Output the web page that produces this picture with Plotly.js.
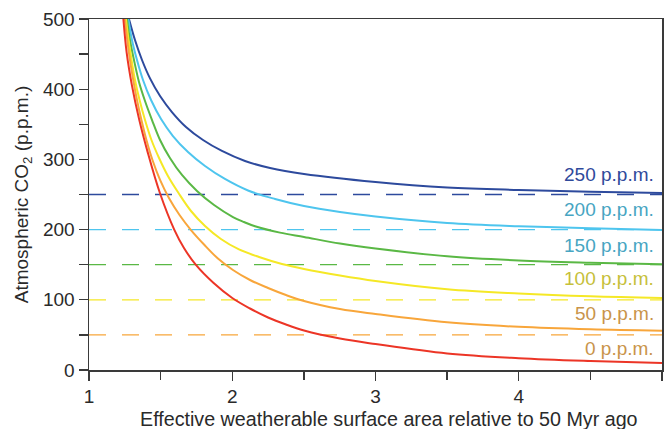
<!DOCTYPE html>
<html>
<head>
<meta charset="utf-8">
<script src="https://cdn.plot.ly/plotly-3.0.1.min.js"></script>
<style>
  html, body { margin: 0; padding: 0; background: #ffffff; }
  #chart { width: 666px; height: 429px; }
</style>
</head>
<body>
<div id="chart"></div>
<script>
// Curve data (x: effective weatherable surface area, y: CO2 p.p.m.)
const blueX   = [1.279, 1.321, 1.370, 1.426, 1.496, 1.579, 1.677, 1.796, 1.928, 2.089, 2.264, 2.501, 3.0, 3.5, 4.0, 4.5, 5.0];
const blueY   = [500, 470, 441.6, 415.4, 390.3, 367.5, 346.2, 327.6, 312, 297.7, 287.7, 279.2, 267.8, 260, 256.4, 254, 252];

const cyanX   = [1.275, 1.300, 1.335, 1.377, 1.433, 1.503, 1.586, 1.691, 1.810, 1.949, 2.110, 2.299, 2.501, 2.752, 3.0, 3.5, 4.0, 4.5, 5.0];
const cyanY   = [500, 470.1, 441.6, 413.1, 384.6, 357.5, 333.3, 310.5, 290.6, 272.1, 255.7, 243.6, 233.6, 225.1, 218.7, 209.4, 204.8, 202, 199.4];

const greenX  = [1.265, 1.286, 1.314, 1.349, 1.391, 1.440, 1.496, 1.565, 1.649, 1.754, 1.873, 2.005, 2.082, 2.159, 2.333, 2.501, 2.752, 3.0, 3.5, 4.0, 4.5, 5.0];
const greenY  = [500, 470.1, 441.6, 410.3, 383.2, 356.1, 327.6, 302, 277.8, 255, 235, 217.9, 210.8, 204.8, 195.7, 189.5, 180.2, 173.1, 162, 156, 152.8, 150.6];

const yellowX = [1.258, 1.276, 1.297, 1.321, 1.353, 1.391, 1.436, 1.489, 1.551, 1.625, 1.712, 1.810, 1.921, 2.047, 2.187, 2.347, 2.501, 2.752, 3.0, 3.5, 4.0, 4.5, 5.0];
const yellowY = [500, 470.1, 441.6, 413.1, 384.6, 356.1, 327.6, 302, 276.4, 252.1, 226.5, 205.1, 186.6, 171.7, 161, 151, 143.9, 134.6, 126.8, 115, 109, 105, 102.6];

const orangeX = [1.250, 1.267, 1.286, 1.309, 1.335, 1.366, 1.401, 1.443, 1.496, 1.558, 1.632, 1.712, 1.803, 1.900, 2.005, 2.124, 2.250, 2.375, 2.501, 2.752, 3.0, 3.5, 4.0, 4.5, 5.0];
const orangeY = [500, 470.1, 441.6, 413.1, 384.6, 356.1, 327.6, 299.1, 270.7, 245, 220.8, 199.4, 178.8, 158.8, 142.5, 128.2, 116.8, 106.8, 98.3, 86.9, 79.8, 67.9, 61.5, 58, 56];

const redX    = [1.240, 1.263, 1.300, 1.350, 1.410, 1.495, 1.595, 1.663, 1.745, 1.866, 2.0, 2.124, 2.250, 2.375, 2.501, 2.752, 3.0, 3.5, 4.0, 4.5, 5.0];
const redY    = [500, 452, 405, 357, 310, 252.1, 200, 173.8, 150, 124.6, 102.6, 87.6, 74.8, 64.8, 56.3, 44.9, 37, 23.5, 16.8, 12.8, 10];

// Reference (dashed) levels and their labels
const levels      = [250, 200, 150, 100, 50, 0];
const levelLabels = ['250 p.p.m.', '200 p.p.m.', '150 p.p.m.', '100 p.p.m.', '50 p.p.m.', '0 p.p.m.'];
const labelYs     = [278, 228, 178, 130, 80, 30];
const xRange      = [1, 5];
const xTitle      = 'Effective weatherable surface area relative to 50 Myr ago';
const yTitle      = 'Atmospheric CO<sub>2</sub> (p.p.m.)';

const curveColors = ['#2d4a9d', '#4ec5ee', '#5ab845', '#f5e826', '#f8a63b', '#ec3526'];
const labelColors = ['#2f4a9b', '#47a5c2', '#47a5c2', '#c6c03a', '#c9944a', '#c9944a'];

const curves = [
  [blueX, blueY], [cyanX, cyanY], [greenX, greenY],
  [yellowX, yellowY], [orangeX, orangeY], [redX, redY]
];

const FONT = 'Liberation Sans, Arial, Helvetica, sans-serif';

const traces = [];
levels.forEach((lv, i) => {
  if (lv === 0) return;
  traces.push({
    x: xRange, y: [lv, lv], mode: 'lines', type: 'scatter',
    line: { color: curveColors[i], width: 1.3, dash: '17px,16px' },
    hoverinfo: 'skip', showlegend: false
  });
});
curves.forEach((c, i) => {
  traces.push({
    x: c[0], y: c[1], mode: 'lines', type: 'scatter',
    line: { color: curveColors[i], width: 2, shape: 'spline', smoothing: 1 },
    showlegend: false
  });
});

const annotations = levelLabels.map((t, i) => ({
  x: 5, y: labelYs[i], xref: 'x', yref: 'y', text: t,
  showarrow: false, xanchor: 'right', yanchor: 'middle', xshift: -6,
  font: { family: FONT, size: 19, color: labelColors[i] }
}));
// x-axis title, placed where the reference shows it
annotations.push({
  x: 0.5227, y: -0.145, xref: 'paper', yref: 'paper', text: xTitle,
  showarrow: false, xanchor: 'center', yanchor: 'middle', yshift: 2,
  font: { family: FONT, size: 19.7, color: '#2a2a2a' }
});

const axisCommon = {
  showgrid: false, zeroline: false, showline: true, mirror: true,
  linecolor: '#3a3a3a', linewidth: 1.5,
  ticks: 'outside', ticklen: 9, tickwidth: 1.3, tickcolor: '#3a3a3a',
  tickfont: { family: FONT, size: 19, color: '#2a2a2a' }
};

const layout = {
  width: 666, height: 429,
  margin: { l: 89, r: 4, t: 19, b: 59 },
  paper_bgcolor: '#ffffff', plot_bgcolor: '#ffffff',
  showlegend: false,
  font: { family: FONT, color: '#2a2a2a' },
  xaxis: Object.assign({}, axisCommon, {
    range: xRange, tickvals: [1, 2, 3, 4, 5],
    minor: { tickvals: [1.5, 2.5, 3.5, 4.5], ticks: 'outside', ticklen: 8, tickwidth: 1.3, tickcolor: '#3a3a3a' }
  }),
  yaxis: Object.assign({}, axisCommon, {
    range: [0, 500], tickvals: [0, 100, 200, 300, 400, 500],
    minor: { tickvals: [50, 150, 250, 350, 450], ticks: 'outside', ticklen: 9, tickwidth: 1.3, tickcolor: '#3a3a3a' },
    title: { text: yTitle, standoff: 9, font: { family: FONT, size: 19, color: '#2a2a2a' } }
  }),
  annotations: annotations
};

Plotly.newPlot('chart', traces, layout, { displayModeBar: false, staticPlot: true });
</script>
</body>
</html>
